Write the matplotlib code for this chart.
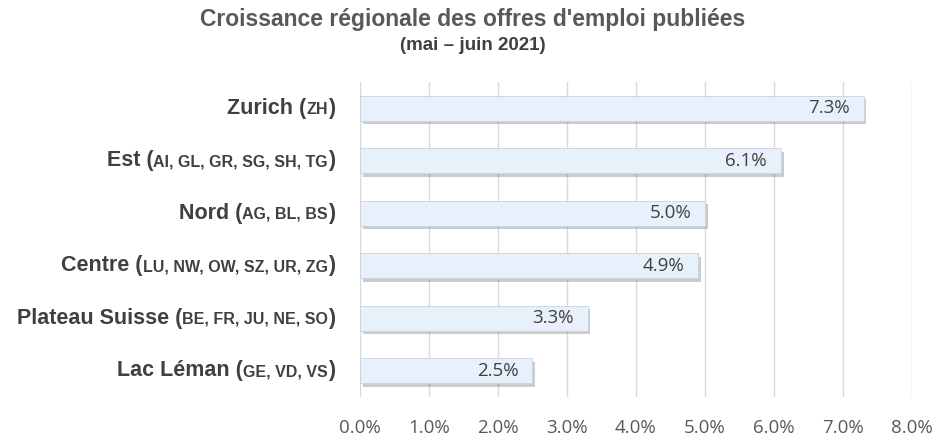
import matplotlib
matplotlib.use("Agg")
import matplotlib.pyplot as plt
import matplotlib.patheffects as pe
from matplotlib.offsetbox import TextArea, HPacker, AnnotationBbox
from matplotlib.ticker import FuncFormatter

# données (du haut vers le bas)
regions = ["Zurich", "Est", "Nord", "Centre", "Plateau Suisse", "Lac Léman"]
cantons = ["ZH", "AI, GL, GR, SG, SH, TG", "AG, BL, BS",
           "LU, NW, OW, SZ, UR, ZG", "BE, FR, JU, NE, SO", "GE, VD, VS"]
croissance = [7.3, 6.1, 5.0, 4.9, 3.3, 2.5]

fig = plt.figure(figsize=(9.46, 4.44), dpi=100)
ax = fig.add_axes([0.3805, 0.106, 0.5835, 0.709])

n = len(regions)
ypos = list(range(n - 1, -1, -1))
bars = ax.barh(ypos, croissance, height=0.48, color="#E8F1FB",
               edgecolor="#C9D3DD", linewidth=0.6, zorder=3)
for b in bars:
    b.set_path_effects([pe.SimplePatchShadow(offset=(2, -2.5), shadow_rgbFace="#808080", alpha=0.4),
                        pe.Normal()])

for y, v in zip(ypos, croissance):
    ax.text(v - 0.2, y, "%.1f%%" % v, ha="right", va="center",
            fontsize=13.5, family="Open Sans", color="#404040", zorder=4)

ax.set_xlim(0, 8)
ax.set_ylim(-0.5, n - 0.5)
ax.set_xticks(range(0, 9))
ax.xaxis.set_major_formatter(FuncFormatter(lambda x, p: "%.1f%%" % x))
ax.set_yticks([])
ax.grid(axis="x", color="#D9D9D9", linewidth=1, zorder=0)
ax.set_axisbelow(True)
for s in ax.spines.values():
    s.set_visible(False)
ax.tick_params(axis="x", length=0, pad=16, labelsize=13.5, labelcolor="#595959")
for lab in ax.get_xticklabels():
    lab.set_family("Open Sans")

# étiquettes des régions : nom en grand, cantons en petit
big = dict(fontsize=15.5, fontweight="bold", color="#404040", family="Liberation Sans")
small = dict(fontsize=11.5, fontweight="bold", color="#404040", family="Liberation Sans")
for y, nom, code in zip(ypos, regions, cantons):
    parts = [TextArea(nom + " (", textprops=big),
             TextArea(code, textprops=small),
             TextArea(")", textprops=big)]
    box = HPacker(children=parts, align="baseline", pad=0, sep=0)
    ab = AnnotationBbox(box, (0, y), xycoords=("data", "data"),
                        xybox=(-18, 0), boxcoords="offset points",
                        box_alignment=(1, 0.5), frameon=False, annotation_clip=False)
    ax.add_artist(ab)

fig.text(0.5, 0.956, "Croissance régionale des offres d'emploi publiées",
         ha="center", va="center", fontsize=16.5, fontweight="bold",
         color="#595959", family="Liberation Sans")
fig.text(0.5, 0.898, "(mai – juin 2021)", ha="center", va="center",
         fontsize=13.5, fontweight="bold", color="#404040", family="Liberation Sans")

fig.savefig("out.png", dpi=100)
